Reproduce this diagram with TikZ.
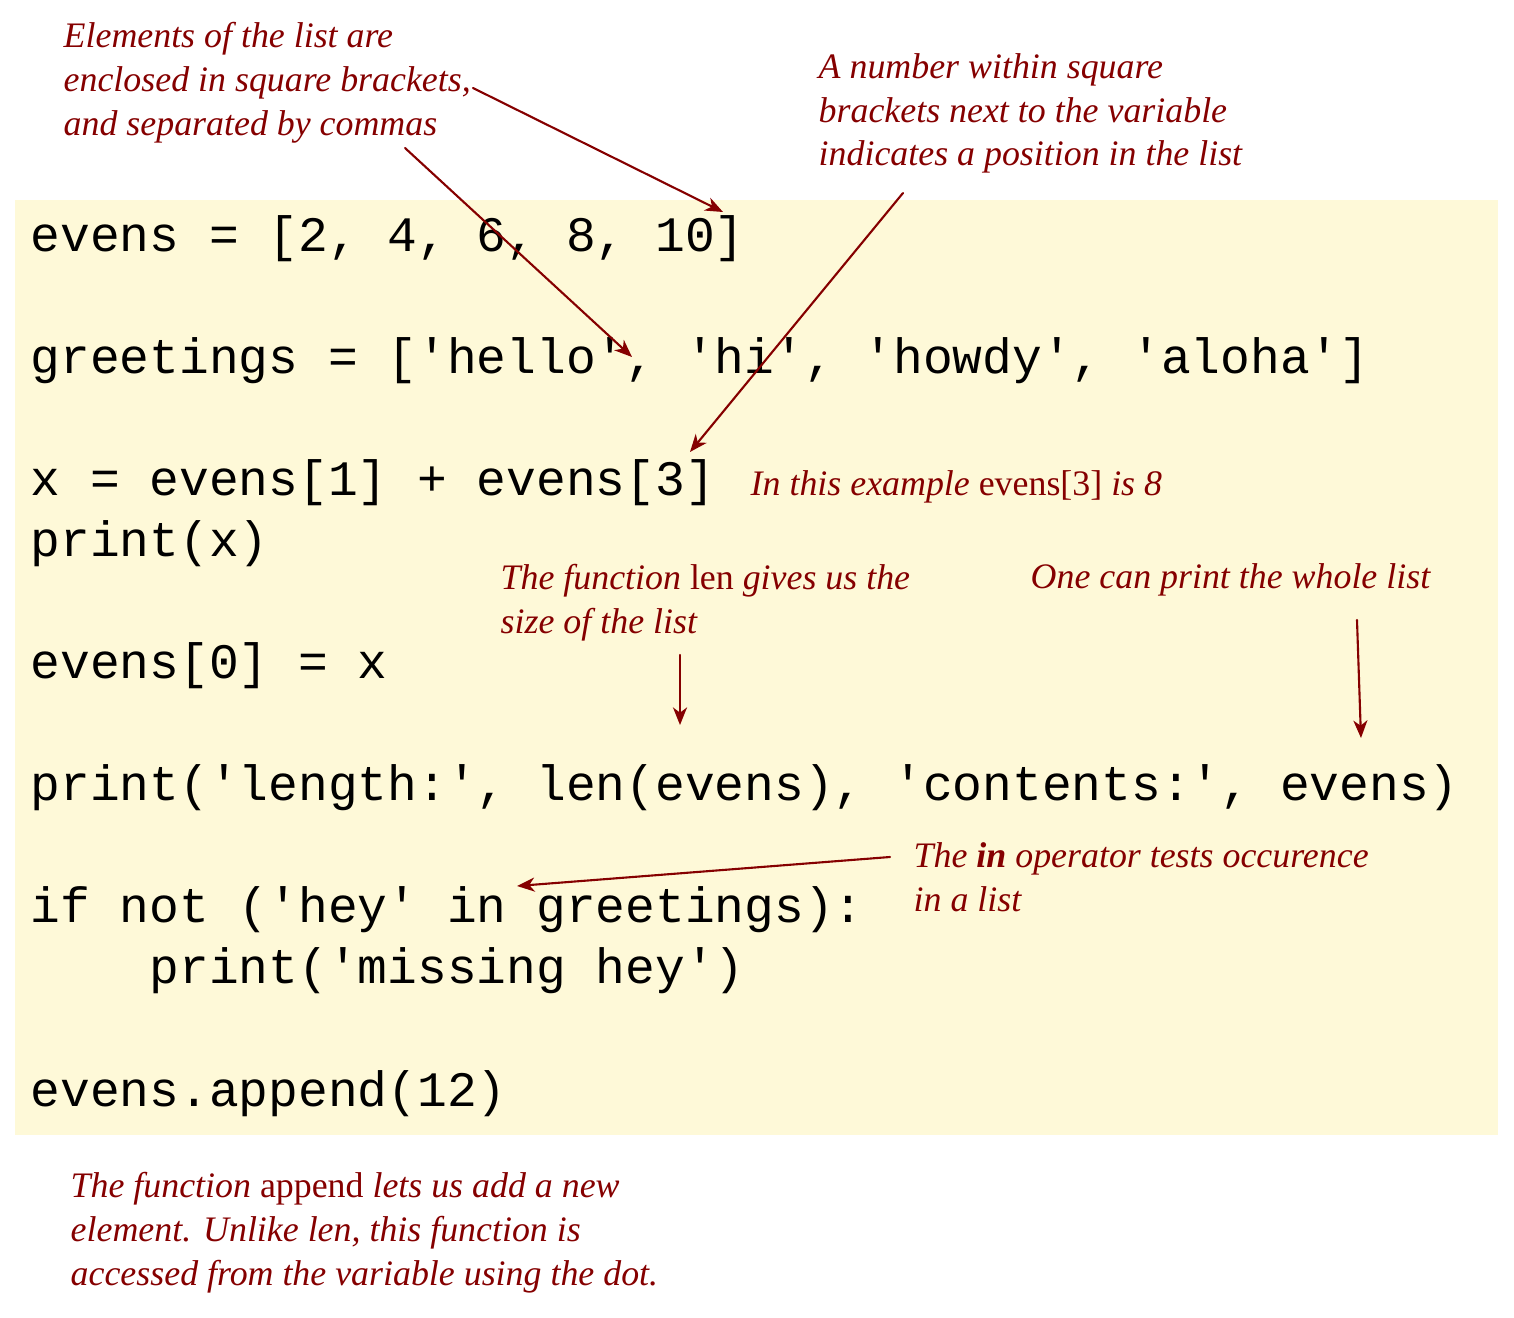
\documentclass[tikz,border=0pt]{standalone}
\usepackage{fontspec}
\setmainfont{Liberation Serif}
\setmonofont{Liberation Mono}
\usetikzlibrary{arrows.meta}
\definecolor{notered}{HTML}{850000}
\definecolor{codebg}{HTML}{FEF9D8}
\tikzset{
  code/.style={anchor=base west, inner sep=0pt, align=left,
    font=\ttfamily\fontsize{14.1pt}{17.36pt}\selectfont},
  note/.style={anchor=base west, inner sep=0pt, align=left, text=notered,
    font=\itshape\fontsize{10.2pt}{12.5pt}\selectfont},
  pointer/.style={->, draw=notered, line width=0.6pt}
}
\newcommand{\up}[1]{\textup{#1}}
\begin{document}
\begin{tikzpicture}[x=0.01cm, y=-0.01cm, >={Stealth[length=5pt,width=4pt,inset=1.5pt]}, line cap=round, line join=round]

	% canvas and code background
	\useasboundingbox (0,0) rectangle (1514,1318);
	\fill[codebg] (15,200) rectangle (1498,1135);

	%========================
	% code listing (placed by its last baseline)
	%========================
	\node[code] (listing) at (30,1106) {evens = [2, 4, 6, 8, 10]\\[17.36pt]
		greetings = ['hello', 'hi', 'howdy', 'aloha']\\[17.36pt]
		x = evens[1] + evens[3]\\
		print(x)\\[17.36pt]
		evens[0] = x\\[17.36pt]
		print('length:', len(evens), 'contents:', evens)\\[17.36pt]
		if not ('hey' in greetings):\\
		\phantom{xxxx}print('missing hey')\\[17.36pt]
		evens.append(12)};

	%========================
	% notes (placed by their last baseline)
	%========================
	\node[note] (brackets) at (63,135) {Elements of the list are\\
		enclosed in square brackets,\\
		and separated by commas};
	\node[note] (position) at (818,166) {A number within square\\
		brackets next to the variable\\
		indicates a position in the list};
	\node[note] (example) at (750,495) {In this example \up{evens[3]} is 8};
	\node[note] (lennote) at (500,633) {The function \up{len} gives us the\\
		size of the list};
	\node[note] (whole) at (1030,588) {One can print the whole list};
	\node[note] (innote) at (913,911) {The \textbf{in} operator tests occurence\\
		in a list};
	\node[note] (appendnote) at (70,1285) {The function \up{append} lets us add a new\\
		element. Unlike len, this function is\\
		accessed from the variable using the dot.};

	% arrow ends
	\coordinate (commaFrom) at (473,88);
	\coordinate (commaTo) at (723,212);
	\coordinate (sepFrom) at (405,148);
	\coordinate (sepTo) at (632,357);
	\coordinate (posFrom) at (903,193);
	\coordinate (posTo) at (690,452);
	\coordinate (lenFrom) at (680,655);
	\coordinate (lenTo) at (680,725);
	\coordinate (wholeFrom) at (1357,620);
	\coordinate (wholeTo) at (1361,738);
	\coordinate (inFrom) at (890,857);
	\coordinate (inTo) at (517,886);

	\draw[pointer] (commaFrom) -- (commaTo);
	\draw[pointer] (sepFrom) -- (sepTo);
	\draw[pointer] (posFrom) -- (posTo);
	\draw[pointer] (lenFrom) -- (lenTo);
	\draw[pointer] (wholeFrom) -- (wholeTo);
	\draw[pointer] (inFrom) -- (inTo);

\end{tikzpicture}
\end{document}
